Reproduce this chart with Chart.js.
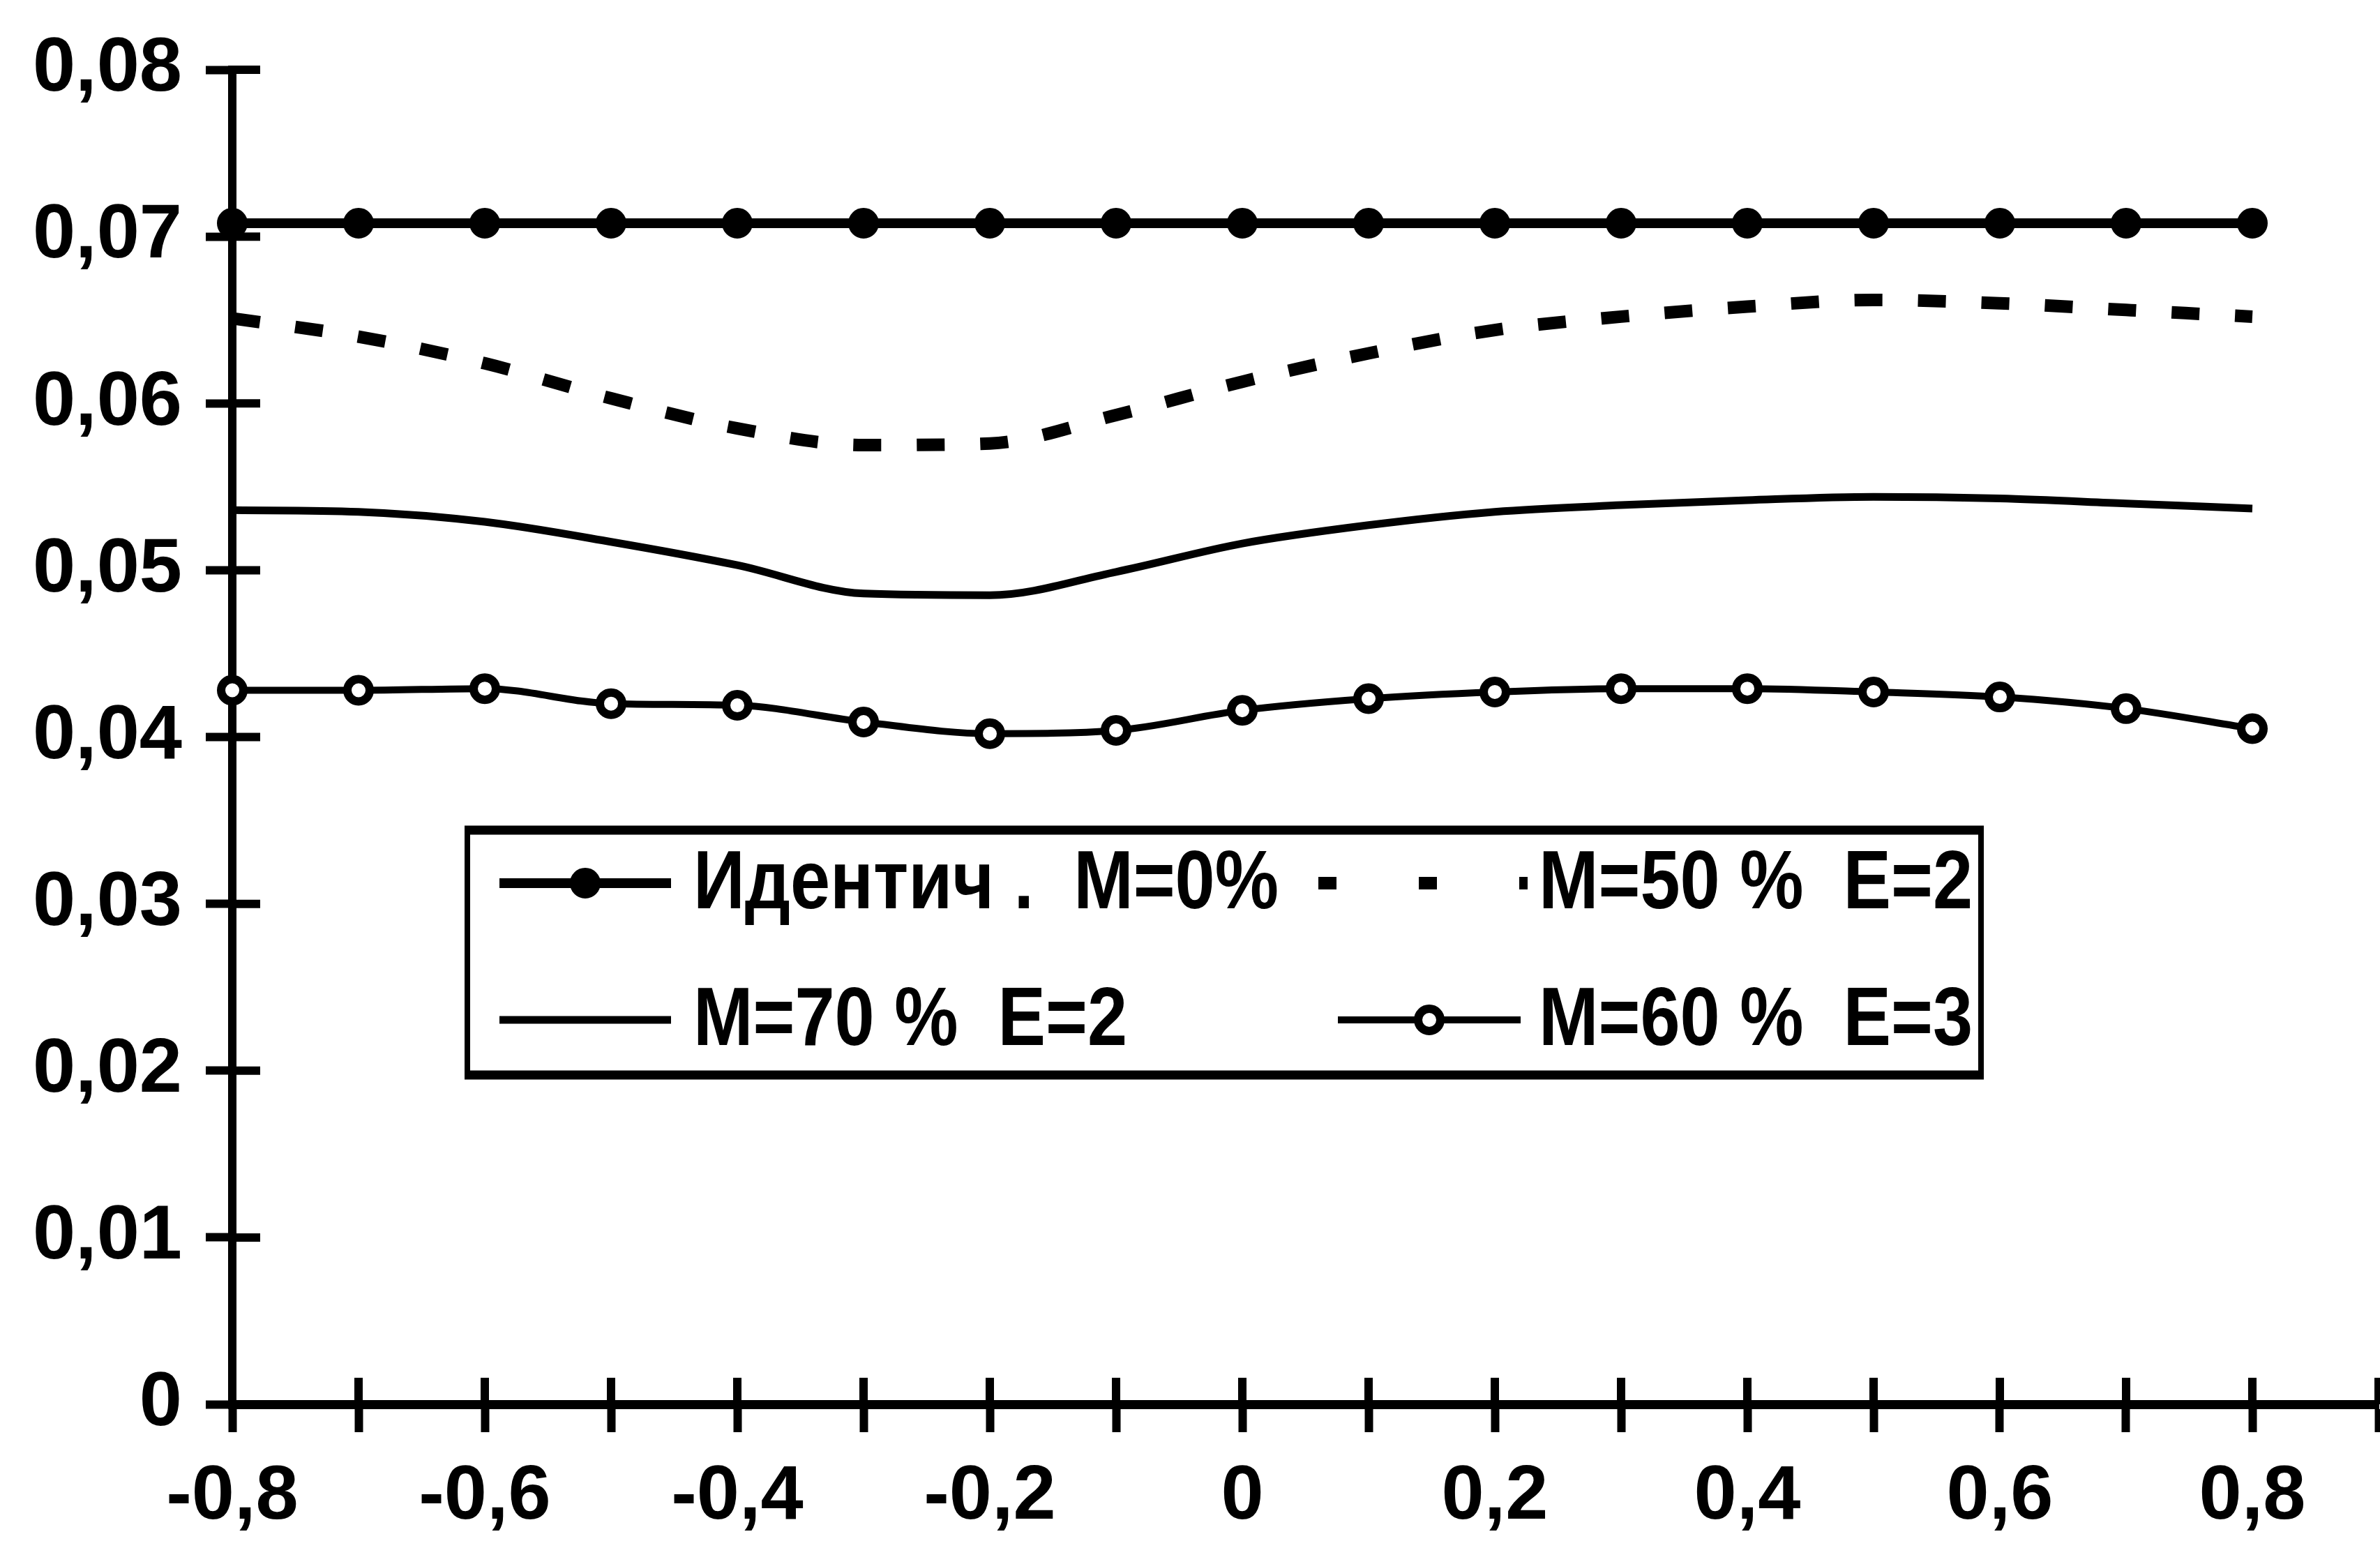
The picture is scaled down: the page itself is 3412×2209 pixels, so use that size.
<!DOCTYPE html>
<html><head><meta charset="utf-8">
<script src="https://cdn.jsdelivr.net/npm/chart.js@4"></script>
<style>html,body{margin:0;padding:0;background:#fff;overflow:hidden;} canvas{display:block;}</style>
</head><body>
<canvas id="c" width="3412" height="2209"></canvas>
<script>
// ---- data ----
const xValues   = [-0.8,-0.7,-0.6,-0.5,-0.4,-0.3,-0.2,-0.1,0,0.1,0.2,0.3,0.4,0.5,0.6,0.7,0.8];
const identM0   = [0.0708,0.0708,0.0708,0.0708,0.0708,0.0708,0.0708,0.0708,0.0708,0.0708,0.0708,0.0708,0.0708,0.0708,0.0708,0.0708,0.0708];
const m50e2     = [0.0651,0.0640,0.0624,0.0603,0.0585,0.0575,0.0576,0.0593,0.0613,0.0630,0.0644,0.0652,0.0658,0.0662,0.0660,0.0656,0.0652];
const m70e2     = [0.0536,0.0535,0.0529,0.0517,0.0503,0.0486,0.0485,0.0499,0.0516,0.0527,0.0535,0.0539,0.0542,0.0544,0.0543,0.0540,0.0537];
const m60e3     = [0.0428,0.0428,0.0429,0.0420,0.0419,0.0409,0.0402,0.0404,0.0416,0.0423,0.0427,0.0429,0.0429,0.0427,0.0424,0.0417,0.0405];
const seriesLabels = ['Идентич .  M=0%', 'M=50 %  E=2', 'M=70 %  E=2', 'M=60 %  E=3'];
const xTickLabels = ['-0,8','-0,6','-0,4','-0,2','0','0,2','0,4','0,6','0,8'];
const yTickLabels = ['0','0,01','0,02','0,03','0,04','0,05','0,06','0,07','0,08'];

const toPts = arr => arr.map((v, i) => ({x: xValues[i], y: v}));

Chart.defaults.font.family = "'Liberation Sans', Arial, sans-serif";
Chart.defaults.font.weight = 'bold';
Chart.defaults.font.size = 110;
Chart.defaults.color = '#000';

const TICK_W = 12;

const crossTicks = {
  id: 'crossTicks',
  beforeDatasetsDraw(chart) {
    const ctx = chart.ctx, a = chart.chartArea;
    ctx.save();
    ctx.strokeStyle = '#000';
    ctx.lineWidth = TICK_W;
    const xs = chart.scales.x, ys = chart.scales.y;
    xs.ticks.forEach((t, i) => {
      const p = xs.getPixelForTick(i);
      ctx.beginPath(); ctx.moveTo(p, a.bottom); ctx.lineTo(p, a.bottom - 38); ctx.stroke();
    });
    ys.ticks.forEach((t, i) => {
      const p = ys.getPixelForTick(i);
      ctx.beginPath(); ctx.moveTo(a.left, p); ctx.lineTo(a.left + 40, p); ctx.stroke();
    });
    ctx.restore();
  }
};

const boxLegend = {
  id: 'boxLegend',
  afterDraw(chart) {
    const ctx = chart.ctx;
    const ds = chart.data.datasets;
    ctx.save();
    ctx.fillStyle = '#fff';
    ctx.fillRect(670, 1190, 2170, 351);
    ctx.strokeStyle = '#000';
    ctx.lineWidth = 8;
    ctx.strokeRect(670, 1190, 2170, 351);
    ctx.lineWidth = 13;
    ctx.beginPath(); ctx.moveTo(666, 1190); ctx.lineTo(2844, 1190); ctx.moveTo(666, 1541); ctx.lineTo(2844, 1541); ctx.stroke();
    const items = [
      {i: 0, x0: 716, x1: 962, tx: 994, y: 1266},
      {i: 1, x0: 1890, x1: 2190, tx: 2206, y: 1266},
      {i: 2, x0: 716, x1: 962, tx: 994, y: 1462},
      {i: 3, x0: 1918, x1: 2180, tx: 2206, y: 1462}
    ];
    items.forEach(it => {
      const d = ds[it.i];
      ctx.save();
      ctx.strokeStyle = '#000';
      if (d.borderDash && d.borderDash.length) {
        ctx.lineWidth = 18;
        ctx.setLineDash([26, 118]);
      } else {
        ctx.lineWidth = d.borderWidth;
        ctx.setLineDash([]);
      }
      ctx.beginPath(); ctx.moveTo(it.x0, it.y); ctx.lineTo(it.x1, it.y); ctx.stroke();
      ctx.setLineDash([]);
      if (d.pointRadius > 0) {
        ctx.fillStyle = d.pointBackgroundColor;
        ctx.strokeStyle = '#000';
        ctx.lineWidth = d.pointBorderWidth;
        ctx.beginPath();
        ctx.arc((it.x0 + it.x1) / 2, it.y, d.pointRadius, 0, Math.PI * 2);
        ctx.fill(); ctx.stroke();
      }
      ctx.fillStyle = '#000';
      ctx.font = "bold 118px 'Liberation Sans', Arial, sans-serif";
      ctx.textBaseline = 'middle';
      ctx.textAlign = 'left';
      ctx.translate(it.tx, it.y + 3);
      ctx.scale(0.87, 1);
      ctx.fillText(d.label, 0, 0);
      ctx.restore();
    });
    ctx.restore();
  }
};

new Chart(document.getElementById('c'), {
  type: 'line',
  data: {
    datasets: [
      {label: seriesLabels[0], data: toPts(identM0), borderColor: '#000', borderWidth: 14,
       pointStyle: 'circle', pointRadius: 21, pointBorderWidth: 2, pointBackgroundColor: '#000', pointBorderColor: '#000', tension: 0},
      {label: seriesLabels[1], data: toPts(m50e2), borderColor: '#000', borderWidth: 18, borderDash: [40, 51],
       pointRadius: 0, pointBorderWidth: 0, cubicInterpolationMode: 'monotone'},
      {label: seriesLabels[2], data: toPts(m70e2), borderColor: '#000', borderWidth: 11,
       pointRadius: 0, pointBorderWidth: 0, cubicInterpolationMode: 'monotone'},
      {label: seriesLabels[3], data: toPts(m60e3), borderColor: '#000', borderWidth: 10,
       pointStyle: 'circle', pointRadius: 16, pointBorderWidth: 12, pointBackgroundColor: '#fff', pointBorderColor: '#000', cubicInterpolationMode: 'monotone'}
    ]
  },
  options: {
    responsive: false,
    animation: false,
    devicePixelRatio: 1,
    clip: false,
    layout: {autoPadding: false, padding: {left: 0, right: 2, top: 94, bottom: 0}},
    plugins: {legend: {display: false}, tooltip: {enabled: false}},
    elements: {line: {fill: false}},
    scales: {
      x: {
        type: 'linear', min: -0.8, max: 0.9,
        ticks: {
          stepSize: 0.1, autoSkip: false, maxRotation: 0, padding: 28,
          font: {size: 110, weight: 'bold'},
          callback: (v) => {
            const k = Math.round(v * 10);
            if (k % 2 !== 0 || k > 8) return '';
            return xTickLabels[(k + 8) / 2];
          }
        },
        grid: {drawOnChartArea: false, drawTicks: true, tickLength: 40, tickWidth: TICK_W, tickColor: '#000'},
        border: {display: true, color: '#000', width: 13},
        afterFit: s => { s.height = 196; s.paddingRight = 0; }
      },
      y: {
        type: 'linear', min: 0, max: 0.08,
        ticks: {
          stepSize: 0.01, padding: 34,
          font: {size: 110, weight: 'bold'},
          callback: (v) => yTickLabels[Math.round(v * 100)]
        },
        grid: {drawOnChartArea: false, drawTicks: true, tickLength: 38, tickWidth: TICK_W, tickColor: '#000'},
        border: {display: true, color: '#000', width: 12},
        afterFit: s => { s.width = 333; }
      }
    }
  },
  plugins: [crossTicks, boxLegend]
});
</script>
</body></html>
